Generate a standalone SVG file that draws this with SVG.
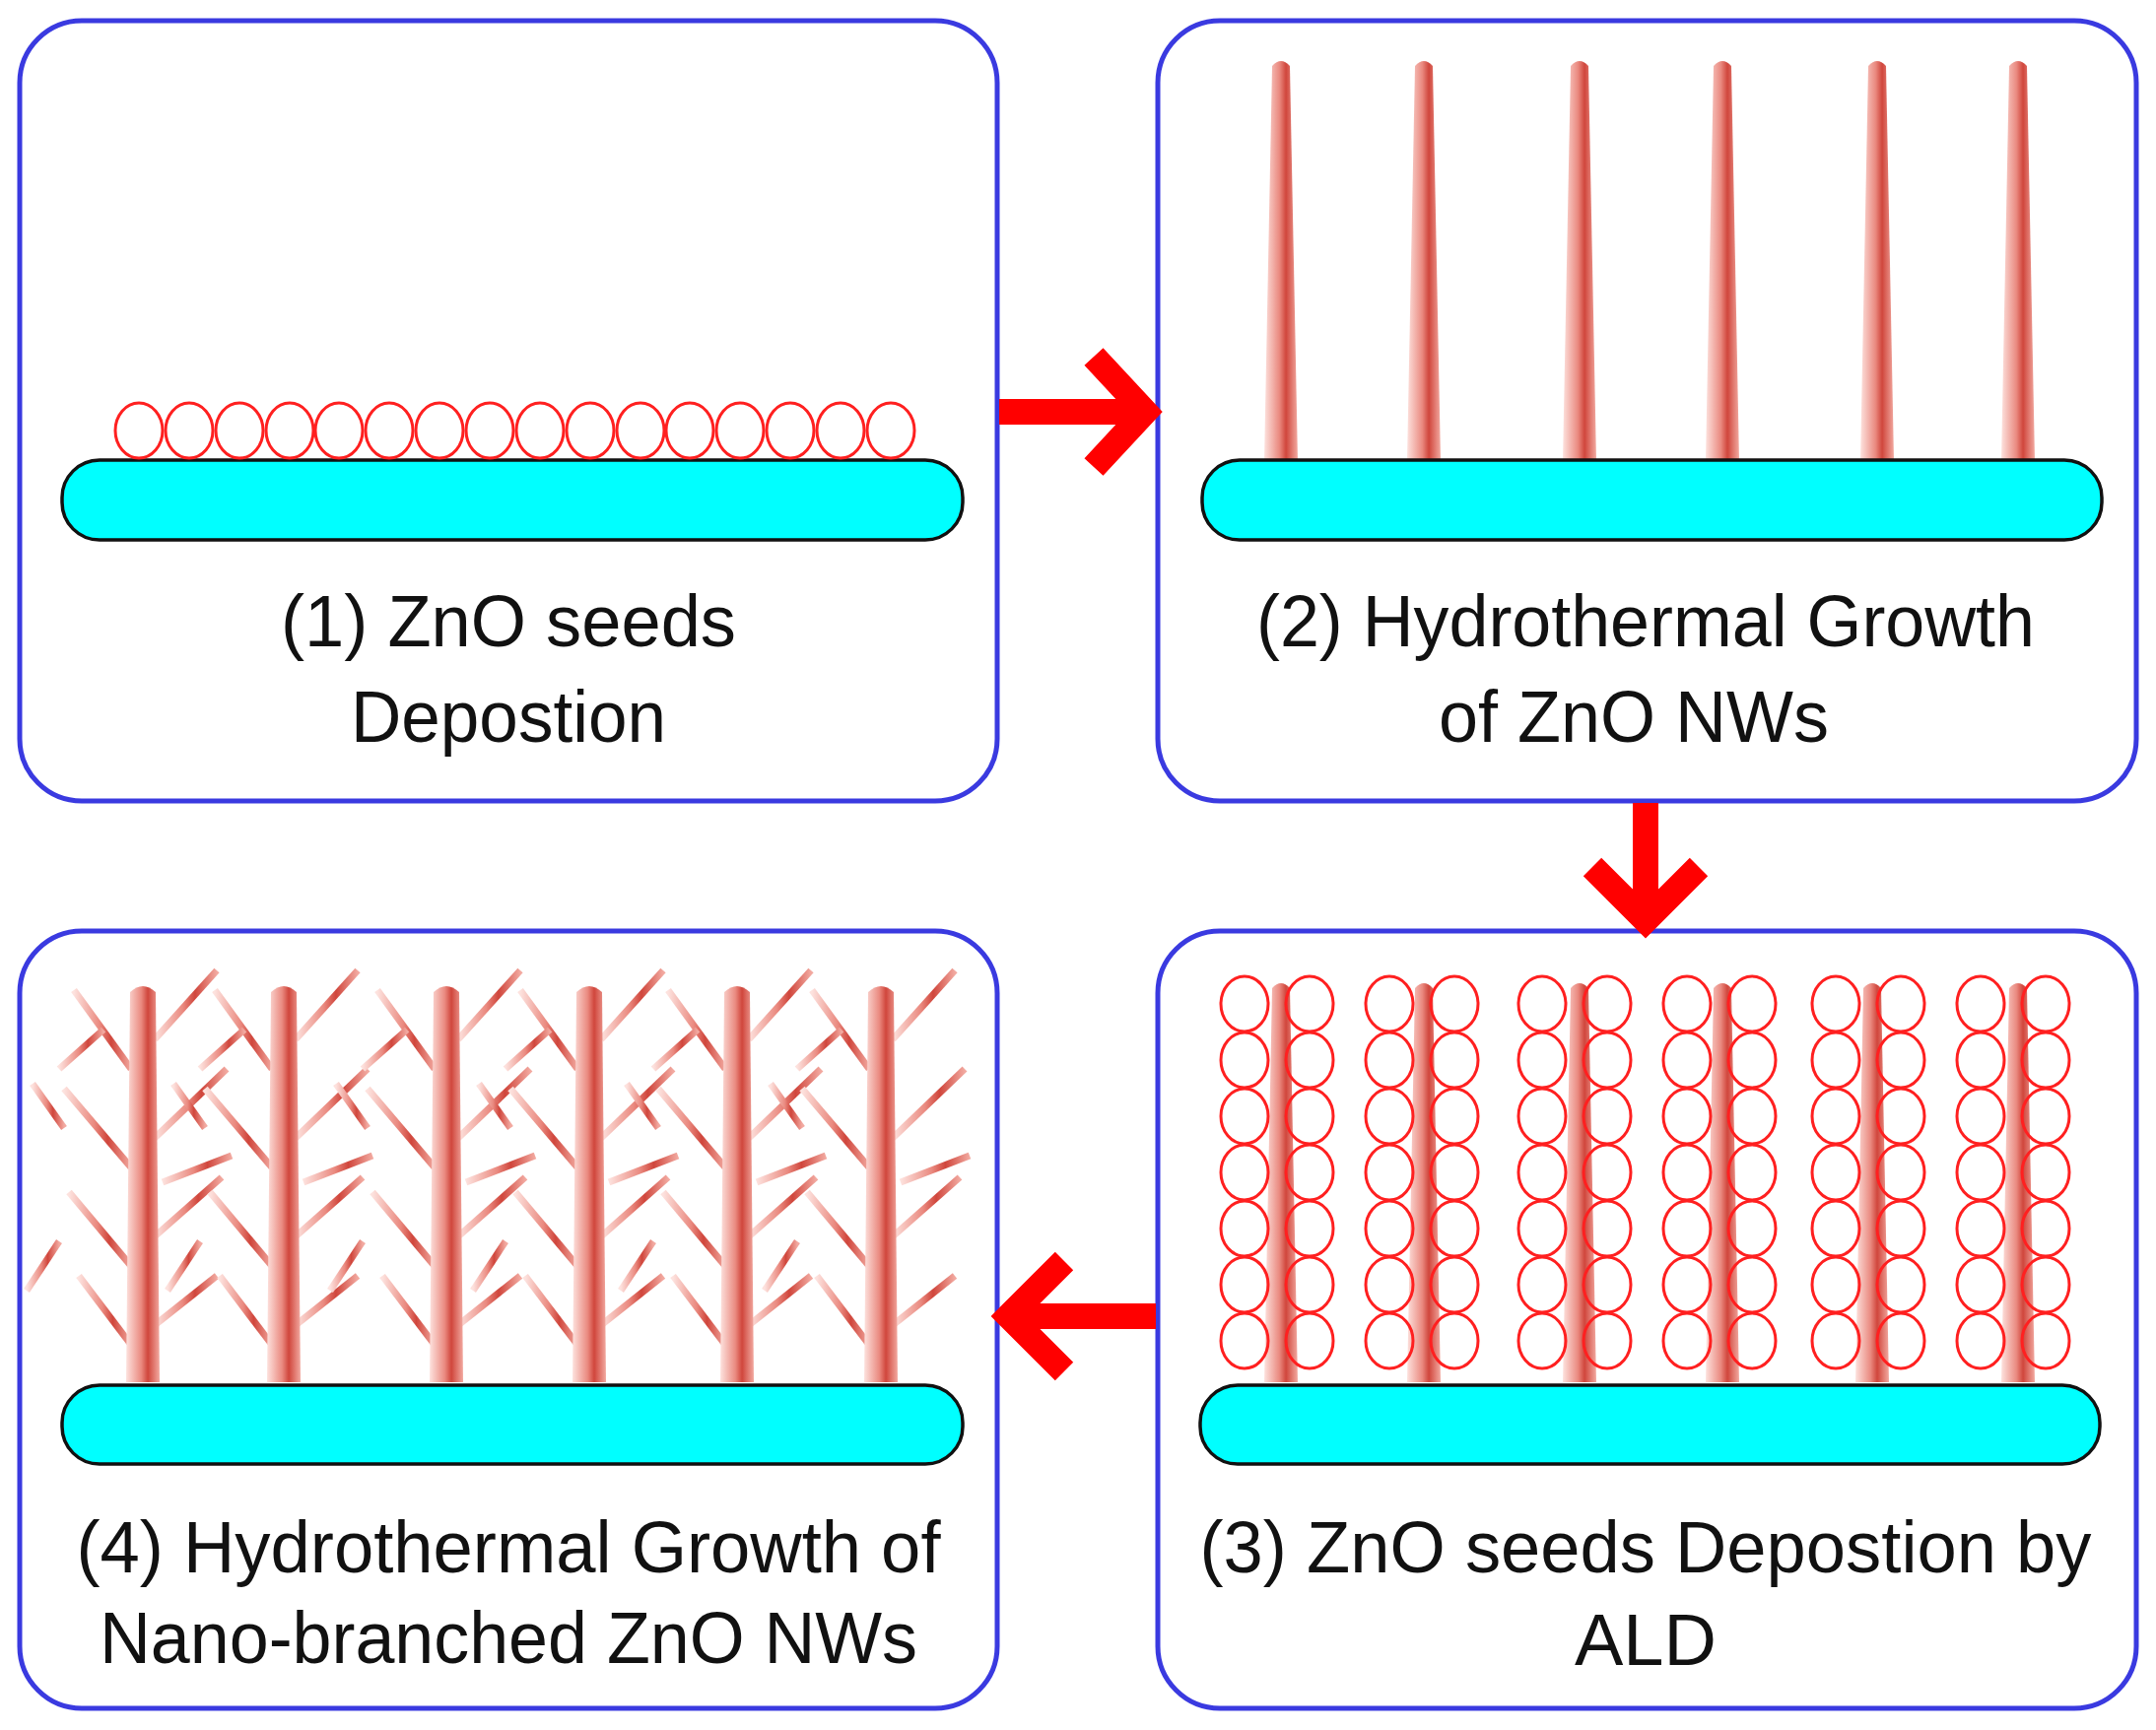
<svg xmlns="http://www.w3.org/2000/svg" width="2188" height="1756" viewBox="0 0 2188 1756">
<defs>
<style>
.box{fill:#fff;stroke:#3a3ae0;stroke-width:5}
.sub{fill:#00ffff;stroke:#111;stroke-width:3.5}
.seed{fill:none;stroke:#ff2020;stroke-width:3}
.lbl{font-family:"Liberation Sans",Arial,sans-serif;font-size:74px;fill:#111;text-anchor:middle}
.arr{stroke:#ff0000;fill:none;stroke-width:26}
.br{stroke:url(#wg);stroke-width:7;stroke-linecap:butt}
</style>
<linearGradient id="wg" x1="0" y1="0" x2="1" y2="0">
<stop offset="0" stop-color="#fde2de"/><stop offset="0.45" stop-color="#ea8a80"/><stop offset="0.65" stop-color="#d0463c"/><stop offset="1" stop-color="#f2a9a0"/>
</linearGradient>
<path id="wire" d="M-17,408 L-9,8 Q0,-2 9,8 L17,408 Z" fill="url(#wg)"/>
<ellipse id="s" rx="24" ry="28" class="seed"/>
<g id="col">
<use href="#s" x="-33" y="0"/><use href="#s" x="33" y="0"/>
<use href="#s" x="-33" y="57"/><use href="#s" x="33" y="57"/>
<use href="#s" x="-33" y="114"/><use href="#s" x="33" y="114"/>
<use href="#s" x="-33" y="171"/><use href="#s" x="33" y="171"/>
<use href="#s" x="-33" y="228"/><use href="#s" x="33" y="228"/>
<use href="#s" x="-33" y="285"/><use href="#s" x="33" y="285"/>
<use href="#s" x="-33" y="342"/><use href="#s" x="33" y="342"/>
</g>
<g id="tree">
<line class="br" x1="-12" y1="90" x2="-70" y2="10"/>
<line class="br" x1="12" y1="60" x2="75" y2="-10"/>
<line class="br" x1="-12" y1="190" x2="-80" y2="110"/>
<line class="br" x1="12" y1="160" x2="85" y2="90"/>
<line class="br" x1="-12" y1="290" x2="-75" y2="215"/>
<line class="br" x1="12" y1="260" x2="80" y2="200"/>
<line class="br" x1="-12" y1="370" x2="-65" y2="300"/>
<line class="br" x1="12" y1="350" x2="75" y2="300"/>
<line class="br" x1="-80" y1="150" x2="-112" y2="105"/>
<line class="br" x1="20" y1="205" x2="90" y2="178"/>
<line class="br" x1="-85" y1="265" x2="-118" y2="315"/>
<line class="br" x1="-40" y1="50" x2="-85" y2="90"/>
<path d="M-17,408 L-13,12 Q0,0 13,12 L17,408 Z" fill="url(#wg)"/>
</g>
</defs>

<g id="node1">
<rect class="box" x="20" y="21" width="992" height="792" rx="63"/>
<rect class="sub" x="63" y="467" width="914" height="81" rx="38"/>
<g>
<use href="#s" x="141" y="437"/><use href="#s" x="192" y="437"/><use href="#s" x="243" y="437"/><use href="#s" x="294" y="437"/>
<use href="#s" x="344" y="437"/><use href="#s" x="395" y="437"/><use href="#s" x="446" y="437"/><use href="#s" x="497" y="437"/>
<use href="#s" x="548" y="437"/><use href="#s" x="599" y="437"/><use href="#s" x="650" y="437"/><use href="#s" x="700" y="437"/>
<use href="#s" x="751" y="437"/><use href="#s" x="802" y="437"/><use href="#s" x="853" y="437"/><use href="#s" x="904" y="437"/>
</g>
<text class="lbl" x="516" y="656" textLength="462" lengthAdjust="spacingAndGlyphs">(1) ZnO seeds</text>
<text class="lbl" x="516" y="753" textLength="320" lengthAdjust="spacingAndGlyphs">Depostion</text>
</g>

<g id="node2">
<rect class="box" x="1175" y="21" width="993" height="792" rx="63"/>
<use href="#wire" x="1300" y="59"/><use href="#wire" x="1445" y="59"/><use href="#wire" x="1603" y="59"/>
<use href="#wire" x="1748" y="59"/><use href="#wire" x="1905" y="59"/><use href="#wire" x="2048" y="59"/>
<rect class="sub" x="1220" y="467" width="913" height="81" rx="38"/>
<text class="lbl" x="1670" y="656" textLength="790" lengthAdjust="spacingAndGlyphs">(2) Hydrothermal Growth</text>
<text class="lbl" x="1658" y="753" textLength="396" lengthAdjust="spacingAndGlyphs">of ZnO NWs</text>
</g>

<g id="node3">
<rect class="box" x="1175" y="945" width="993" height="789" rx="63"/>
<use href="#wire" x="1300" y="995"/><use href="#wire" x="1445" y="995"/><use href="#wire" x="1603" y="995"/>
<use href="#wire" x="1748" y="995"/><use href="#wire" x="1900" y="995"/><use href="#wire" x="2048" y="995"/>
<use href="#col" x="1296" y="1019"/><use href="#col" x="1443" y="1019"/><use href="#col" x="1598" y="1019"/>
<use href="#col" x="1745" y="1019"/><use href="#col" x="1896" y="1019"/><use href="#col" x="2043" y="1019"/>
<rect class="sub" x="1218" y="1406" width="913" height="80" rx="38"/>
<text class="lbl" x="1670" y="1596" textLength="905" lengthAdjust="spacingAndGlyphs">(3) ZnO seeds Depostion by</text>
<text class="lbl" x="1670" y="1690">ALD</text>
</g>

<g id="node4">
<rect class="box" x="20" y="945" width="992" height="789" rx="63"/>
<use href="#tree" x="145" y="995"/><use href="#tree" x="288" y="995"/><use href="#tree" x="453" y="995"/>
<use href="#tree" x="598" y="995"/><use href="#tree" x="748" y="995"/><use href="#tree" x="894" y="995"/>
<rect class="sub" x="63" y="1406" width="914" height="80" rx="38"/>
<text class="lbl" x="516" y="1596" textLength="877" lengthAdjust="spacingAndGlyphs">(4) Hydrothermal Growth of</text>
<text class="lbl" x="516" y="1688" textLength="830" lengthAdjust="spacingAndGlyphs">Nano-branched ZnO NWs</text>
</g>

<g id="connectors">
<line class="arr" x1="1014" y1="418" x2="1160" y2="418"/>
<polyline class="arr" points="1110,362 1162,418 1110,474"/>
<line class="arr" x1="1670" y1="815" x2="1670" y2="930"/>
<polyline class="arr" points="1616,880 1670,934 1724,880"/>
<line class="arr" x1="1173" y1="1336" x2="1024" y2="1336"/>
<polyline class="arr" points="1080,1280 1024,1336 1080,1392"/>
</g>
</svg>
